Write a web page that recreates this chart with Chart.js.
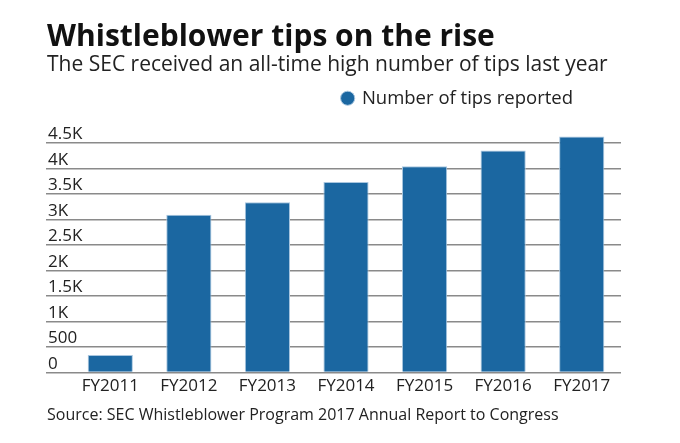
<!DOCTYPE html>
<html>
<head>
<meta charset="utf-8">
<script src="https://cdn.jsdelivr.net/npm/chart.js@4.4.1/dist/chart.umd.min.js"></script>
<style>
  html, body { margin: 0; padding: 0; background: #fff; }
  #wrap { position: relative; width: 680px; height: 443px; font-family: "Open Sans", sans-serif; }
  #grafico { position: absolute; left: 0; top: 0; }
  .txt { position: absolute; left: 47px; white-space: nowrap; line-height: 1; }
  #titulo { top: 20px; font-size: 30px; font-weight: 700; color: #111; }
  #subtitulo { top: 53px; font-size: 21px; color: #222; }
  #fuente { top: 406px; font-size: 16px; color: #222; }
</style>
</head>
<body>
<div id="wrap">
  <canvas id="grafico" width="680" height="443"></canvas>
  <div class="txt" id="titulo">Whistleblower tips on the rise</div>
  <div class="txt" id="subtitulo">The SEC received an all-time high number of tips last year</div>
  <div class="txt" id="fuente">Source: SEC Whistleblower Program 2017 Annual Report to Congress</div>
</div>
<script>
const anios = ["FY2011", "FY2012", "FY2013", "FY2014", "FY2015", "FY2016", "FY2017"];
const tips = [334, 3001, 3238, 3620, 3923, 4218, 4484];
const etiquetasY = ["0", "500", "1K", "1.5K", "2K", "2.5K", "3K", "3.5K", "4K", "4.5K"];

const ctx = document.getElementById("grafico");
new Chart(ctx, {
    type: "bar",
    data: {
        labels: anios,
        datasets: [{
            label: "Number of tips reported",
            data: tips,
            backgroundColor: "#1b67a1",
            borderColor: "#a9c6df",
            borderWidth: 1,
            categoryPercentage: 1,
            barPercentage: 0.575
        }]
    },
    options: {
        responsive: false,
        animation: false,
        layout: {
            padding: { left: 46, right: 59, top: 41, bottom: 44 }
        },
        plugins: {
            legend: {
                position: "top",
                align: "end",
                labels: {
                    usePointStyle: true,
                    pointStyle: "circle",
                    boxWidth: 10,
                    boxHeight: 10,
                    padding: 48,
                    color: "#222",
                    font: { family: "Open Sans", size: 18.5 }
                }
            },
            tooltip: { enabled: false }
        },
        scales: {
            x: {
                grid: { display: false, drawTicks: false },
                border: { display: false },
                ticks: {
                    color: "#222",
                    padding: 3,
                    font: { family: "Open Sans", size: 17 }
                }
            },
            y: {
                min: 0,
                max: 4847,
                afterFit: (scale) => { scale.width = 25; },
                grid: {
                    color: "#8a8a8a",
                    lineWidth: 1.5,
                    drawTicks: true,
                    tickLength: 25
                },
                border: { display: false },
                ticks: {
                    stepSize: 500,
                    includeBounds: false,
                    mirror: true,
                    padding: -23,
                    crossAlign: "near",
                    align: "end",
                    color: "#222",
                    font: { family: "Open Sans", size: 17 },
                    callback: (valor, i) => etiquetasY[i]
                }
            }
        }
    }
});
</script>
</body>
</html>
